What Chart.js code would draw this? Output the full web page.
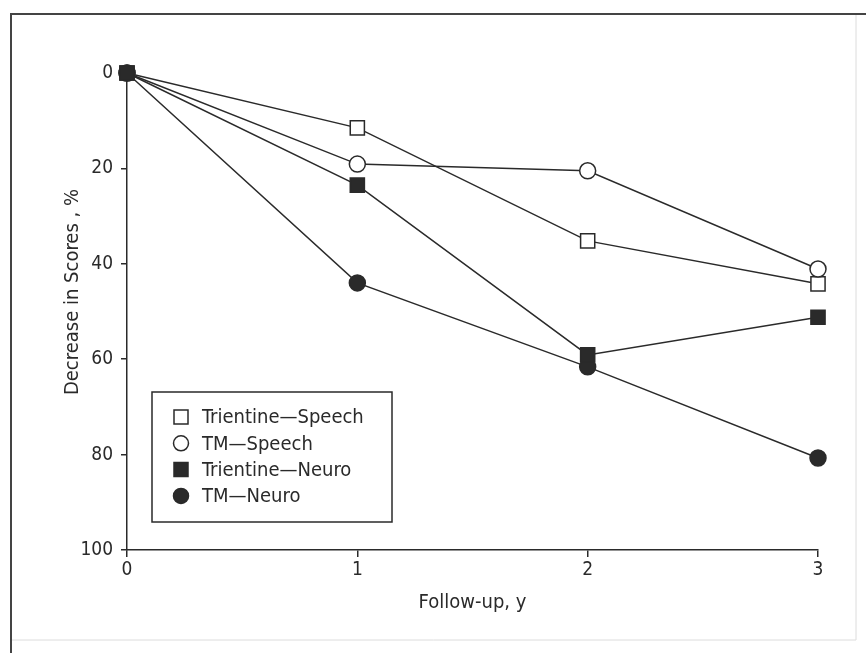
<!DOCTYPE html>
<html>
<head>
<meta charset="utf-8">
<script src="https://cdn.jsdelivr.net/npm/chart.js@4/dist/chart.umd.min.js"></script>
<style>
  html, body { margin: 0; padding: 0; background: #fff; }
  #wrap { width: 866px; height: 653px; position: relative; }
</style>
</head>
<body>
<div id="wrap"><canvas id="chart" width="866" height="653"></canvas></div>
<script>
const followUpYears = [0, 1, 2, 3];
const trientineSpeech = [0, 11.5, 35.2, 44.2];
const tmSpeech = [0, 19.1, 20.5, 41.1];
const trientineNeuro = [0, 23.5, 59.1, 51.2];
const tmNeuro = [0, 44.0, 61.6, 80.7];
const yTicks = [0, 20, 40, 60, 80, 100];
const yTitle = 'Decrease in Scores , %';
const xTitle = 'Follow-up, y';

const FONT = '"DejaVu Sans Condensed", "Liberation Sans Narrow", sans-serif';
const INK = '#2a2a2a';

const toPoints = vals => vals.map((v, i) => ({ x: followUpYears[i], y: v }));

const series = [
  { label: 'Trientine\u2014Speech', data: trientineSpeech, style: 'rect', fill: '#fff', radius: 10, order: 3 },
  { label: 'TM\u2014Speech', data: tmSpeech, style: 'circle', fill: '#fff', radius: 8, order: 2 },
  { label: 'Trientine\u2014Neuro', data: trientineNeuro, style: 'rect', fill: INK, radius: 10, order: 0 },
  { label: 'TM\u2014Neuro', data: tmNeuro, style: 'circle', fill: INK, radius: 8, order: 1 }
];

// outer frame + rotated y title (sits a bit above the axis centre in the original)
const framePlugin = {
  id: 'frame',
  beforeDraw(chart) {
    const c = chart.ctx;
    c.save();
    c.strokeStyle = '#dcdcdc';
    c.lineWidth = 1;
    c.beginPath();
    c.moveTo(856, 14); c.lineTo(856, 640); c.lineTo(11, 640);
    c.stroke();
    c.strokeStyle = '#444';
    c.lineWidth = 2;
    c.beginPath();
    c.moveTo(11, 653); c.lineTo(11, 14); c.lineTo(866, 14);
    c.stroke();
    c.translate(73, 292);
    c.rotate(-Math.PI / 2);
    c.fillStyle = INK;
    c.font = '20px ' + FONT;
    c.textAlign = 'center';
    c.textBaseline = 'middle';
    c.fillText(yTitle, 0, 0);
    c.restore();
  }
};

const legendPlugin = {
  id: 'boxLegend',
  afterDraw(chart) {
    const c = chart.ctx;
    c.save();
    c.fillStyle = '#fff';
    c.fillRect(152, 392, 240, 130);
    c.strokeStyle = INK;
    c.lineWidth = 1.5;
    c.strokeRect(152, 392, 240, 130);
    c.font = '20px ' + FONT;
    c.textBaseline = 'middle';
    series.forEach((s, i) => {
      const y = 417 + i * 26.3;
      const x = 181;
      c.fillStyle = s.fill;
      c.strokeStyle = INK;
      c.lineWidth = 1.5;
      c.beginPath();
      if (s.style === 'rect') c.rect(x - 7, y - 7, 14, 14);
      else c.arc(x, y, 7.5, 0, Math.PI * 2);
      c.fill(); c.stroke();
      c.fillStyle = INK;
      c.fillText(s.label, 202, y + 1);
    });
    c.restore();
  }
};

new Chart(document.getElementById('chart'), {
  type: 'line',
  data: {
    datasets: series.map(s => ({
      label: s.label,
      data: toPoints(s.data),
      order: s.order,
      borderColor: INK,
      borderWidth: 1.5,
      pointStyle: s.style,
      pointRadius: s.radius,
      pointBackgroundColor: s.fill,
      pointBorderColor: INK,
      pointBorderWidth: 1.5,
      tension: 0,
      clip: false
    }))
  },
  options: {
    responsive: false,
    animation: false,
    layout: { padding: { left: 0, top: 73, right: 48, bottom: 34 } },
    plugins: { legend: { display: false }, tooltip: { enabled: false } },
    scales: {
      x: {
        type: 'linear',
        min: 0, max: 3,
        afterFit: s => { s.height = 69; },
        afterBuildTicks: s => { s.ticks = followUpYears.map(v => ({ value: v })); },
        ticks: { color: INK, font: { family: FONT, size: 19 }, padding: 2 },
        grid: { drawOnChartArea: false, drawTicks: true, tickLength: 7, color: INK, lineWidth: 1.5 },
        border: { display: true, color: INK, width: 1.5 },
        title: { display: true, text: xTitle, color: INK, font: { family: FONT, size: 20 }, padding: { top: 0, bottom: 4 } }
      },
      y: {
        type: 'linear',
        min: 0, max: 100,
        reverse: true,
        afterFit: s => { s.width = 127; },
        afterBuildTicks: s => { s.ticks = yTicks.map(v => ({ value: v })); },
        ticks: { color: INK, font: { family: FONT, size: 19 }, padding: 8 },
        grid: { drawOnChartArea: false, drawTicks: true, tickLength: 6, color: INK, lineWidth: 1.5 },
        border: { display: true, color: INK, width: 1.5 },
        title: { display: false }
      }
    }
  },
  plugins: [framePlugin, legendPlugin]
});
</script>
</body>
</html>
